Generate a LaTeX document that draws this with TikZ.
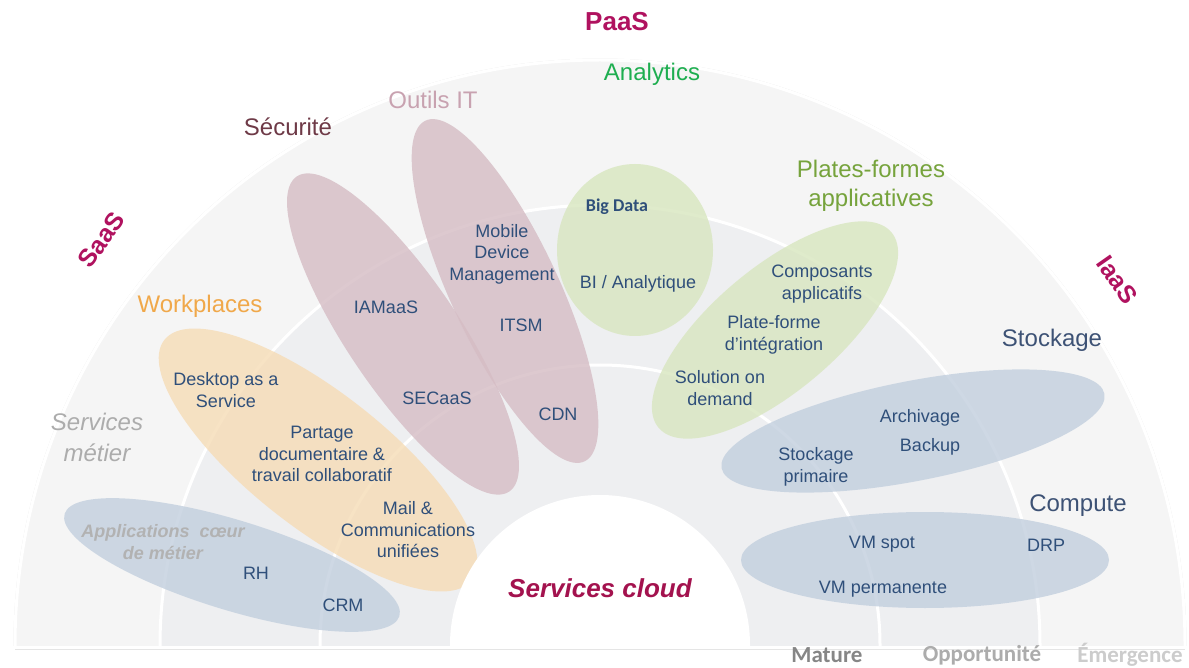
\documentclass[tikz,border=0pt]{standalone}
\usepackage{fontspec}
\setmainfont{Liberation Sans}
\newfontfamily\calibri{Carlito}

\definecolor{txtblue}{HTML}{2F4F7A}
\definecolor{saasred}{HTML}{B0125F}
\definecolor{cloudred}{HTML}{A3124E}
\definecolor{bandout}{HTML}{F5F5F5}
\definecolor{bandin}{HTML}{EEEFF1}
\definecolor{blobblue}{HTML}{C2CFDE}
\definecolor{bloborange}{HTML}{F6DCB6}
\definecolor{blobmauve}{HTML}{D5BCC4}
\definecolor{blobgreen}{HTML}{D8E6BF}

\begin{document}
\begin{tikzpicture}[x=1pt, y=-1pt,
        every node/.style={align=center, inner sep=0pt},
        item/.style={text=txtblue, font=\fontsize{18}{21.5}\selectfont},
        head/.style={font=\fontsize{24}{29}\selectfont},
        model/.style={text=saasred, font=\bfseries\fontsize{25}{30}\selectfont},
        level/.style={font=\calibri\bfseries\fontsize{23}{26}\selectfont},
        ring/.style={draw=white, line width=3pt},
        blob/.style={fill opacity=0.8}
    ]
    \useasboundingbox (0,0) rectangle (1189,668);
    \fill[white] (0,0) rectangle (1189,668);

    \begin{scope}
        \clip (0,0) rectangle (1189,645);
        \fill[bandout] (600,645) circle (585pt);
        \fill[bandin] (600,645) circle (440pt);
        \draw[gray!18, line width=1pt] (600,645) circle (586pt);
        \draw[ring] (600,645) circle (585pt);
        \draw[ring] (600,645) circle (440pt);
        \draw[ring] (600,645) circle (280pt);

        % SaaS
        \fill[blobblue, blob, rotate around={-17:(232,565)}] (232,565) ellipse [x radius=175pt, y radius=45pt];
        \fill[bloborange, blob, rotate around={-38:(318,460)}] (318,460) ellipse [x radius=195pt, y radius=68pt];
        \fill[blobmauve, blob, rotate around={-56:(403,334)}] (403,334) ellipse [x radius=190pt, y radius=56pt];
        \fill[blobmauve, blob, rotate around={-65:(505,291)}] (505,291) ellipse [x radius=188pt, y radius=54pt];
        % PaaS
        \fill[blobgreen, blob] (635,250) ellipse [x radius=78pt, y radius=86pt];
        \fill[blobgreen, blob, rotate around={40:(775,330)}] (775,330) ellipse [x radius=152pt, y radius=62pt];
        % IaaS
        \fill[blobblue, blob, rotate around={11:(913,431)}] (913,431) ellipse [x radius=195pt, y radius=50pt];
        \fill[blobblue, blob] (925,560) ellipse [x radius=184pt, y radius=48pt];

        \fill[white] (600,645) circle (150pt);
    \end{scope}
    \draw[gray!20, line width=1pt] (15,649) -- (1185,649);

    % models
    \node[model, font=\bfseries\fontsize{26}{30}\selectfont] (paas) at (617,22) {PaaS};
    \node[model, rotate=55] (saas) at (101,240) {SaaS};
    \node[model, rotate=-55] (iaas) at (1117,280) {IaaS};

    % families
    \node[head, text={rgb,255:red,110;green,58;blue,71}] (secu) at (288,127) {Sécurité};
    \node[head, text={rgb,255:red,200;green,162;blue,176}] (outils) at (433,100) {Outils IT};
    \node[head, text={rgb,255:red,30;green,174;blue,80}] (analytics) at (652,74) {Analytics};
    \node[head, text={rgb,255:red,118;green,163;blue,60}] (plates) at (871,186) {Plates-formes\\applicatives};
    \node[head, text={rgb,255:red,240;green,168;blue,74}] (work) at (200,306) {Workplaces};
    \node[head, text={rgb,255:red,61;green,82;blue,117}] (stock) at (1052,340) {Stockage};
    \node[head, text={rgb,255:red,61;green,82;blue,117}] (compute) at (1078,506) {Compute};
    \node[head, text=gray!65, font=\itshape\fontsize{24}{31}\selectfont] (metier) at (97,437) {Services\\métier};

    % items
    \node[item, font=\calibri\bfseries\fontsize{18}{21}\selectfont] (bigdata) at (617,207) {Big Data};
    \node[item] (bi) at (638,284) {BI / Analytique};
    \node[item] (mdm) at (502,254) {Mobile\\Device\\Management};
    \node[item] (itsm) at (521,325) {ITSM};
    \node[item] (cdn) at (558,414) {CDN};
    \node[item] (iam) at (386,307) {IAMaaS};
    \node[item] (secaas) at (437,398) {SECaaS};
    \node[item] (daas) at (226,390) {Desktop as a\\Service};
    \node[item] (partage) at (322,454) {Partage\\documentaire \&\\travail collaboratif};
    \node[item] (mail) at (408,530) {Mail \&\\Communications\\unifiées};
    \node[item, text=gray!60, font=\bfseries\itshape\fontsize{18}{22}\selectfont] (coeur) at (163,542) {Applications\ \ cœur\\de métier};
    \node[item] (rh) at (256,573) {RH};
    \node[item] (crm) at (343,605) {CRM};
    \node[item] (compo) at (822,284) {Composants\\applicatifs};
    \node[item] (integ) at (774,335) {Plate-forme\\d’intégration};
    \node[item] (demand) at (720,388) {Solution on\\demand};
    \node[item] (archiv) at (920,418) {Archivage};
    \node[item] (backup) at (930,447) {Backup};
    \node[item] (primaire) at (816,467) {Stockage\\primaire};
    \node[item] (vmspot) at (882,544) {VM spot};
    \node[item] (vmperm) at (883,589) {VM permanente};
    \node[item] (drp) at (1046,545) {DRP};

    \node[text=cloudred, font=\bfseries\itshape\fontsize{26}{30}\selectfont] (cloud) at (600,588) {Services cloud};

    % maturity
    \node[level, text=gray!95] (mature) at (827,655) {Mature};
    \node[level, text=gray!65] (oppo) at (982,655) {Opportunité};
    \node[level, text=gray!40] (emerg) at (1130,655) {Émergence};
\end{tikzpicture}
\end{document}
